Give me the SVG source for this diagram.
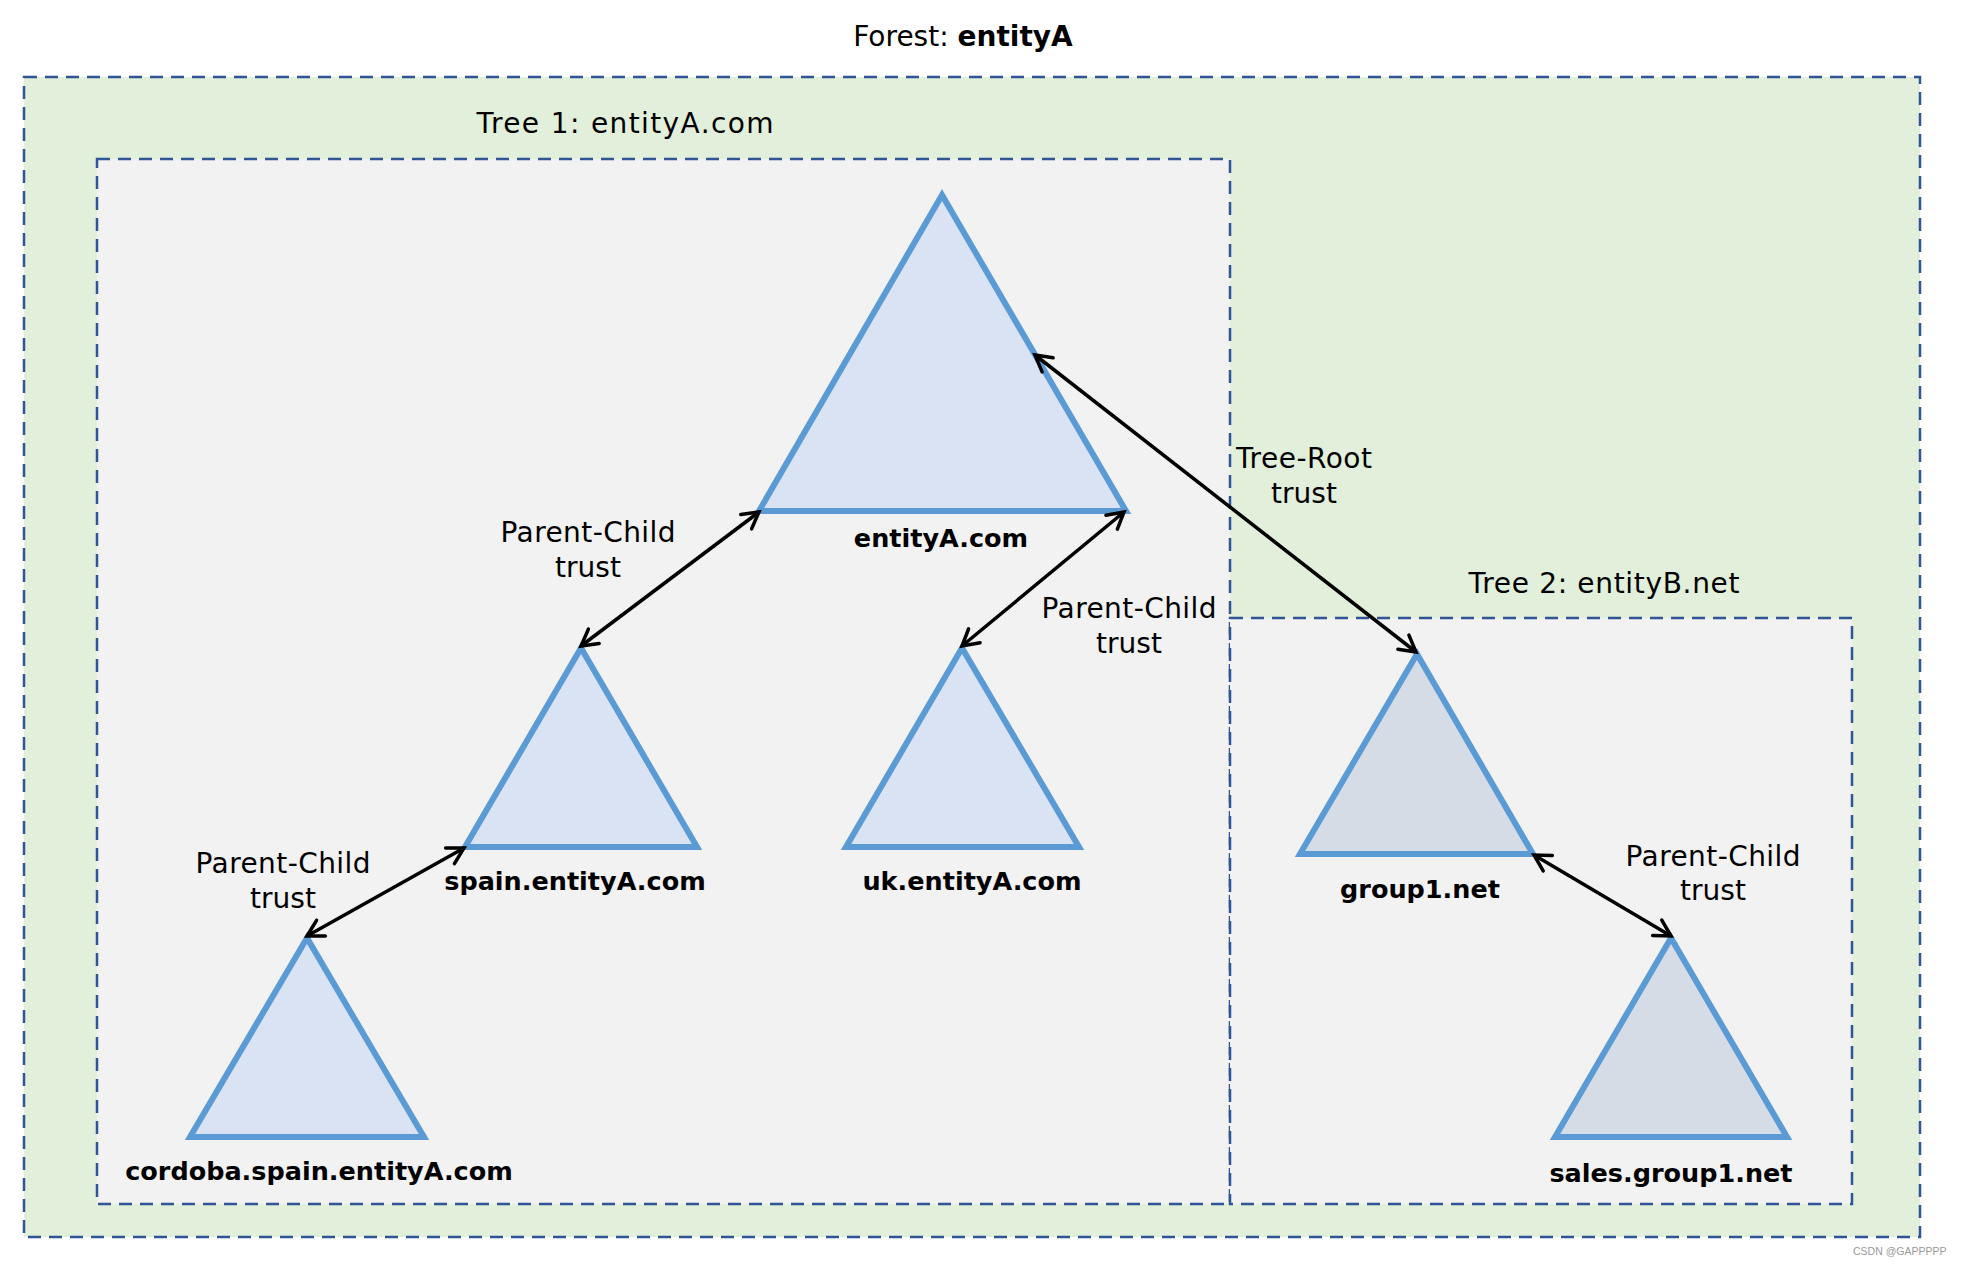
<svg xmlns="http://www.w3.org/2000/svg" width="1968" height="1266" viewBox="0 0 1968 1266">
<style>
.box{stroke:#2F5597;stroke-width:2.5;stroke-dasharray:13 8}
.tri{stroke:#5B9BD5;stroke-width:6;stroke-linejoin:miter}
.t1{fill:#DAE3F3}
.t2{fill:#D6DCE5}
.lbl{font-family:"DejaVu Sans",sans-serif;font-size:28px;fill:#000;text-anchor:middle}
.name{font-family:"DejaVu Sans",sans-serif;font-size:25.5px;font-weight:bold;fill:#000;text-anchor:middle}
.conn{stroke:#000;stroke-width:3.5;fill:none;marker-start:url(#arr);marker-end:url(#arr)}
</style>
<defs>
<marker id="arr" markerUnits="userSpaceOnUse" markerWidth="24" markerHeight="24" refX="16" refY="9" orient="auto-start-reverse" overflow="visible">
<path d="M0,0 L16,9 L0,18" fill="none" stroke="#000" stroke-width="3.5" stroke-linecap="round" stroke-linejoin="miter"/>
</marker>
</defs>
<rect width="1968" height="1266" fill="#FFFFFF"/>
<g id="forest">
<rect class="box" x="24" y="77" width="1896" height="1160" fill="#E2EFDA"/>
<text class="lbl" x="963" y="46" font-size="27.5">Forest: <tspan font-weight="bold">entityA</tspan></text>
</g>
<g id="tree1">
<rect class="box" x="97" y="159" width="1133" height="1045" fill="#F2F2F2"/>
<text class="lbl" x="625" y="133" textLength="297">Tree 1: entityA.com</text>
</g>
<g id="tree2">
<rect class="box" x="1230" y="618" width="622" height="586" fill="#F2F2F2"/>
<text class="lbl" x="1604" y="593" textLength="271">Tree 2: entityB.net</text>
</g>
<g id="entityA">
<polygon class="tri t1" points="942,195 759,511 1126,511"/>
<text class="name" x="941" y="547">entityA.com</text>
</g>
<g id="spain">
<polygon class="tri t1" points="581,648 465,847 697,847"/>
<text class="name" x="575" y="890">spain.entityA.com</text>
</g>
<g id="uk">
<polygon class="tri t1" points="962,648 846,847 1079,847"/>
<text class="name" x="972" y="890">uk.entityA.com</text>
</g>
<g id="cordoba">
<polygon class="tri t1" points="307,938 190,1137 424,1137"/>
<text class="name" x="319" y="1180">cordoba.spain.entityA.com</text>
</g>
<g id="group1">
<polygon class="tri t2" points="1417,654 1300,854 1533,854"/>
<text class="name" x="1420" y="898">group1.net</text>
</g>
<g id="sales">
<polygon class="tri t2" points="1671,938 1555,1137 1787,1137"/>
<text class="name" x="1671" y="1182">sales.group1.net</text>
</g>
<g id="connectors">
<line class="conn" x1="581" y1="646" x2="759" y2="512"/>
<line class="conn" x1="962" y1="646" x2="1124" y2="512"/>
<line class="conn" x1="307" y1="936" x2="464" y2="848"/>
<line class="conn" x1="1035" y1="355" x2="1416" y2="652"/>
<line class="conn" x1="1534" y1="855" x2="1671" y2="936"/>
<text class="lbl" x="588" y="542" textLength="175">Parent-Child</text>
<text class="lbl" x="588" y="577">trust</text>
<text class="lbl" x="1129" y="618" textLength="175">Parent-Child</text>
<text class="lbl" x="1129" y="653">trust</text>
<text class="lbl" x="283" y="873" textLength="175">Parent-Child</text>
<text class="lbl" x="283" y="908">trust</text>
<text class="lbl" x="1304" y="468" textLength="136">Tree-Root</text>
<text class="lbl" x="1304" y="503">trust</text>
<text class="lbl" x="1713" y="866" textLength="175">Parent-Child</text>
<text class="lbl" x="1713" y="900">trust</text>
</g>
<text x="1853" y="1255" font-family="Liberation Sans, sans-serif" font-size="10.5" fill="#999999">CSDN @GAPPPPP</text>
</svg>
